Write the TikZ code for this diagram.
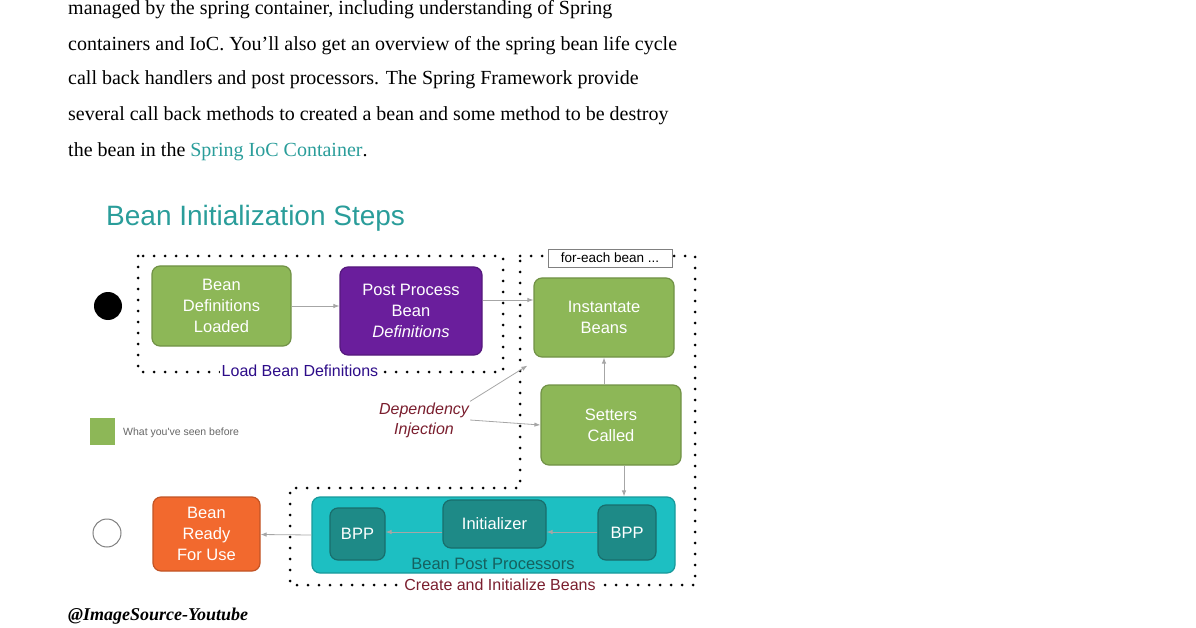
\documentclass[tikz,border=0pt]{standalone}
\usepackage{fontspec}
\setmainfont{Liberation Serif}
\newfontfamily\sff{Liberation Sans}
\usetikzlibrary{arrows.meta}
\definecolor{gr}{HTML}{8DB757}
\definecolor{pu}{HTML}{6A1E9C}
\definecolor{tl}{HTML}{1DBFC2}
\definecolor{dtl}{HTML}{1E8A87}
\definecolor{og}{HTML}{F2692E}
\definecolor{ttl}{HTML}{2A9D9A}
\definecolor{dred}{HTML}{7A1E2E}
\begin{document}
\begin{tikzpicture}[x=1pt,y=-1pt,
  box/.style={draw=#1!80!black,fill=#1,rounded corners=8pt,line width=1.2pt,align=center,text=white,font=\sff\fontsize{16.5}{21}\selectfont,inner sep=0pt},
  dots/.style={dotted,line width=3pt,line cap=round,dash pattern=on 0pt off 11pt},
  arr/.style={-{Latex[length=6pt]},gray!70,line width=0.8pt},
  para/.style={anchor=west,font=\fontsize{20}{22}\selectfont,inner sep=0pt}]
\useasboundingbox (0,0) rectangle (1196,628);
\node[para] (p1) at (68,10) {managed by the spring container, including understanding of Spring};
\node[para] (p2) at (68,46) {containers and IoC. You'll also get an overview of the spring bean life cycle};
\node[para] (p3) at (68,80) {call back handlers and post processors. The Spring Framework provide};
\node[para] (p4) at (68,116) {several call back methods to created a bean and some method to be destroy};
\node[para] (p5) at (68,152) {the bean in the \textcolor{ttl}{Spring IoC Container}.};
\node[anchor=west,text=ttl,font=\sff\fontsize{28}{32}\selectfont,inner sep=0pt] (ttl) at (106,218) {Bean Initialization Steps};
% dotted regions
\draw[dots] (138,256) rectangle (503,372);
\node[fill=white,text=pu!60!blue!70!black,font=\sff\fontsize{16}{18}\selectfont,inner sep=2pt] (lbd) at (300,371) {Load Bean Definitions};
\draw[dots] (520,256) -- (695,256) -- (695,585) -- (290,585) -- (290,488) -- (520,488) -- cycle;
\node[fill=white,draw=gray,font=\sff\fontsize{13.5}{15}\selectfont,inner sep=2pt,minimum width=124pt,minimum height=18pt] (feb) at (610,258) {for-each bean ...};
\node[fill=white,text=dred,font=\sff\fontsize{16}{18}\selectfont,inner sep=2pt] (cib) at (500,585) {Create and Initialize Beans};
% circles
\node[circle,fill=black,minimum size=28pt,inner sep=0pt] (start) at (108,306) {};
\node[circle,draw=gray,line width=1pt,fill=white,minimum size=28pt,inner sep=0pt] (end) at (107,533) {};
% boxes
\node[box=gr,minimum width=139pt,minimum height=80pt] (bdl) at (221.5,306) {Bean\\Definitions\\Loaded};
\node[box=pu,minimum width=142pt,minimum height=88pt] (ppb) at (411,311) {Post Process\\Bean\\\textit{Definitions}};
\node[box=gr,minimum width=140pt,minimum height=79pt] (ib) at (604,317.5) {Instantate\\Beans};
\node[box=gr,minimum width=140pt,minimum height=80pt] (sc) at (611,425) {Setters\\Called};
\node[box=tl,minimum width=363pt,minimum height=76pt] (bpps) at (493.5,535) {};
\node[box=dtl,minimum width=55pt,minimum height=52pt] (bpp1) at (357.5,534) {BPP};
\node[box=dtl,minimum width=103pt,minimum height=48pt] (ini) at (494.5,524) {Initializer};
\node[box=dtl,minimum width=58pt,minimum height=55pt] (bpp2) at (627,532.5) {BPP};
\node[text=dtl!70!black,font=\sff\fontsize{16.5}{18}\selectfont,inner sep=0pt] (bppl) at (493,564) {Bean Post Processors};
\node[box=og,minimum width=107pt,minimum height=74pt] (ready) at (206.5,534) {Bean\\Ready\\For Use};
% legend
\node[fill=gr,minimum width=25pt,minimum height=27pt,inner sep=0pt] (leg) at (102.5,431.5) {};
\node[anchor=west,font=\sff\fontsize{10.5}{12}\selectfont,text=gray!80!black,inner sep=0pt] (legt) at (123,433) {What you've seen before};
\node[align=center,text=dred,font=\sff\itshape\fontsize{16}{20}\selectfont,inner sep=1pt] (di) at (424,420) {Dependency\\Injection};
% arrows
\draw[arr] (bdl) -- (ppb.west |- bdl);
\draw[arr] (ppb.east |- 0,300) -- (ib.west |- 0,300);
\draw[arr] (di.north east) -- ([xshift=-6pt,yshift=-8pt]ib.south west);
\draw[arr] (di.east) -- (sc.west);
\draw[arr] (sc.north -| ib) -- (ib.south);
\draw[arr] ([xshift=13pt]sc.south) -- ([xshift=130.5pt]bpps.north);
\draw[arr] (bpp2.west |- 0,532) -- (ini.east |- 0,532);
\draw[arr] (ini.west |- 0,532) -- (bpp1.east |- 0,532);
\draw[arr] (bpps.west) -- (ready);
\node[anchor=west,font=\bfseries\itshape\fontsize{18}{20}\selectfont,inner sep=0pt] (src) at (68,616) {@ImageSource-Youtube};
\end{tikzpicture}
\end{document}
